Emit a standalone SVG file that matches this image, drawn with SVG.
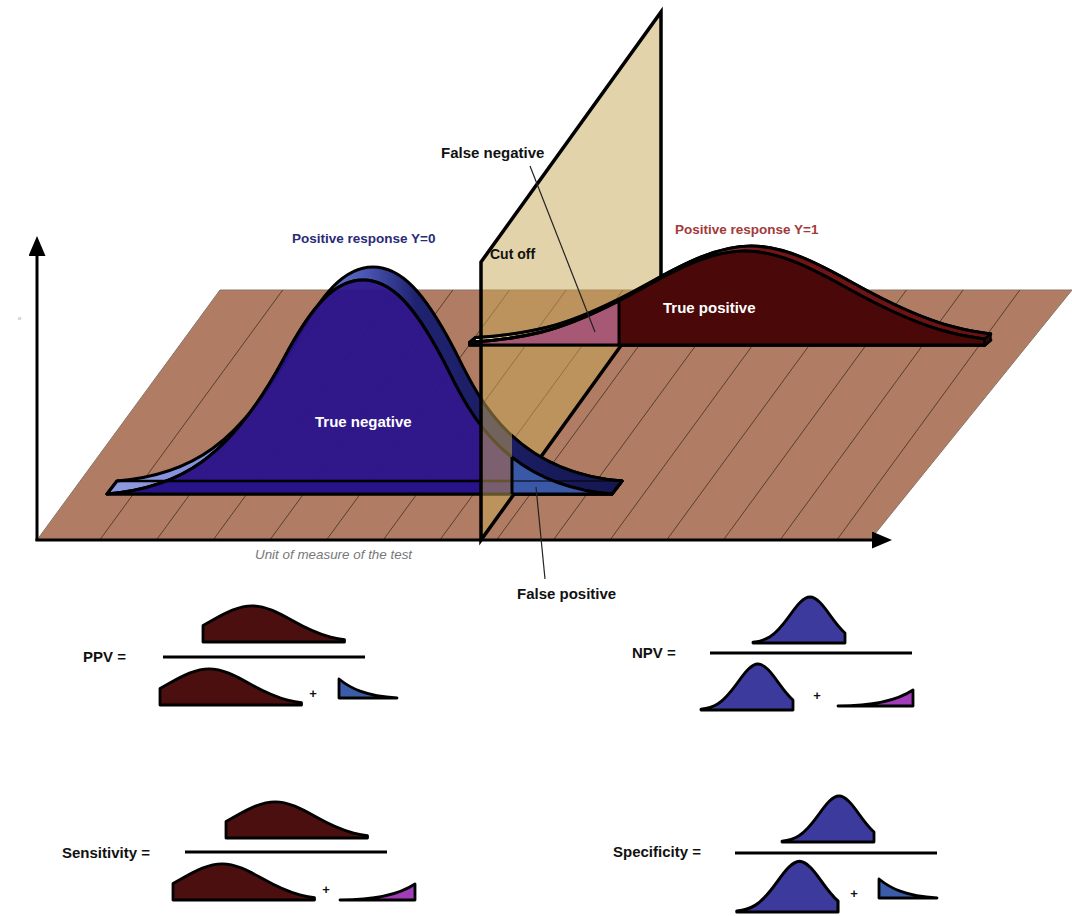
<svg xmlns="http://www.w3.org/2000/svg" xmlns:xlink="http://www.w3.org/1999/xlink" width="1072" height="916" viewBox="0 0 1072 916">
<style>
.lb{font-family:"Liberation Sans",Arial,Helvetica,sans-serif;font-weight:bold;font-size:15px;fill:#111}
.lbw{font-family:"Liberation Sans",Arial,Helvetica,sans-serif;font-weight:bold;font-size:15px;fill:#fff}
.resp{font-family:"Liberation Sans",Arial,Helvetica,sans-serif;font-weight:bold;font-size:13.5px}
.unit{font-family:"Liberation Sans",Arial,Helvetica,sans-serif;font-style:italic;font-size:13.4px;fill:#777}
.ol{stroke:#000;stroke-width:3;stroke-linejoin:round}
.tp{fill:#4b0f10;stroke:#000;stroke-width:2.8;stroke-linejoin:round}
.tn{fill:#3c3a9c;stroke:#000;stroke-width:2.8;stroke-linejoin:round}
.fp{fill:#3b5ca9;stroke:#000;stroke-width:2.8;stroke-linejoin:round}
.fn{fill:#a23cb8;stroke:#000;stroke-width:2.8;stroke-linejoin:round}
.bar{stroke:#000;stroke-width:3}
.lead{stroke:#222;stroke-width:1.2;fill:none}
</style>
<defs>
<marker id="arrow" viewBox="0 0 20 17" refX="0" refY="8.5" markerWidth="20" markerHeight="17" markerUnits="userSpaceOnUse" orient="auto">
<path d="M0,0 L20,8.5 L0,17 Z" fill="#000"/>
</marker>
<linearGradient id="gBlueRib" gradientUnits="userSpaceOnUse" x1="107" y1="0" x2="622" y2="0">
<stop offset="0" stop-color="#8e9ae0"/><stop offset="0.38" stop-color="#7683d2"/><stop offset="0.5" stop-color="#4b57b4"/><stop offset="0.6" stop-color="#1f2270"/><stop offset="1" stop-color="#14174f"/>
</linearGradient>
<linearGradient id="gRedRib" gradientUnits="userSpaceOnUse" x1="470" y1="0" x2="990" y2="0">
<stop offset="0" stop-color="#f0eef4"/><stop offset="0.3" stop-color="#e0d4d8"/><stop offset="0.48" stop-color="#a04040"/><stop offset="0.56" stop-color="#721616"/><stop offset="1" stop-color="#6a1212"/>
</linearGradient>
<clipPath id="clipFP"><rect x="512" y="0" width="560" height="916"/></clipPath>
<clipPath id="clipTP"><rect x="619" y="0" width="453" height="916"/></clipPath>
<clipPath id="clipFN"><rect x="0" y="0" width="619" height="916"/></clipPath>
<path id="bBase" d="M107,494 L612,494 L622,481 L117,481 Z"/>
<path id="bRib" d="M117,481 C190,475 240,445 293,347 C322,292 345,267 373,267 C401,267 424,292 453,347 C473,385 505,472 622,481 L612,494 C495,485 463,398 443,360 C414,305 391,280 363,280 C335,280 312,305 283,360 C230,458 180,488 107,494 Z"/>
<path id="bFront" d="M107,494 C180,488 230,458 283,360 C312,305 335,280 363,280 C391,280 414,305 443,360 C463,398 495,485 612,494 Z"/>
<path id="rBase" d="M469.6,345 L984.7,345 L990.7,340 L475.6,340 Z"/>
<path id="rRib" d="M475.6,337.5 C499.4,336 523.2,333.2 547,327.3 C581,318.8 615,302 649,283 C683,264 717,246 751,246 C785,246 819,264 853,283 C887,302 921,318.8 955,327.3 C966.9,330.3 978.8,332.4 990.7,334.1 L984.7,339.1 C972.8,337.4 960.9,335.3 949,332.3 C915,323.8 881,307 847,288 C813,269 779,251 745,251 C711,251 677,269 643,288 C609,307 575,323.8 541,332.3 C517.2,338.2 493.4,341 469.6,342.5 Z"/>
<path id="rFront" d="M469.6,342.5 C493.4,341 517.2,338.2 541,332.3 C575,323.8 609,307 643,288 C677,269 711,251 745,251 C779,251 813,269 847,288 C881,307 915,323.8 949,332.3 C960.9,335.3 972.8,337.4 984.7,339.1 L984.7,345 L469.6,345 Z"/>
<path id="fTP" d="M0,0 L0,-16.6 C3.3,-18.3 6.5,-20.1 9.8,-22 C22.9,-29.3 36,-36.2 49.1,-36.2 C62.2,-36.2 75.3,-29.3 88.4,-22 C101.5,-14.6 114.6,-8.2 127.7,-4.9 C132.3,-3.8 136.9,-2.9 141.5,-2.3 L141.5,0 Z"/>
<path id="fTN" d="M-92,0 L-92,-0.8 C-86.3,-1.4 -80.7,-2.7 -75,-6.2 C-68.3,-10.4 -61.7,-18.6 -55,-27.9 C-48.3,-37.2 -41.7,-46 -35,-46 C-28.3,-46 -21.7,-37.2 -15,-27.9 C-10,-20.9 -5,-14.3 0,-10 L0,0 Z"/>
<path id="fFP" d="M0,0 L0,-19 C11,-10 26,-2 58,0 Z"/>
<path id="fFN" d="M-75,0 C-43,0 -18,-4 0,-16 L0,0 Z"/>
</defs>

<rect x="0" y="0" width="1072" height="916" fill="#fff"/>

<g id="floor">
<polygon points="37,540 220,290 1072,290 870,540" fill="#b07d64" stroke="#8a7468" stroke-width="1"/>
<path d="M99.7,540L282.7,290 M156.4,540L339.4,290 M213.1,540L396.1,290 M269.8,540L452.8,290 M326.5,540L509.5,290 M383.2,540L566.2,290 M439.9,540L622.9,290 M496.6,540L679.6,290 M553.3,540L736.3,290 M610,540L793,290 M666.7,540L849.7,290 M723.4,540L906.4,290 M780.1,540L963.1,290 M836.8,540L1019.8,290" stroke="#3d2a20" stroke-width="0.9" stroke-opacity="0.85" fill="none"/>
</g>

<g id="axes">
<line x1="37" y1="541" x2="37" y2="256" stroke="#000" stroke-width="3" marker-end="url(#arrow)"/>
<line x1="35.5" y1="540" x2="872" y2="540" stroke="#000" stroke-width="3" marker-end="url(#arrow)"/>
<text x="21" y="320" transform="rotate(-90 21 320)" style="font-family:'Liberation Sans',Arial,sans-serif;font-size:6px;fill:#999">s</text>
<text class="unit" x="255" y="559">Unit of measure of the test</text>
</g>

<g id="curve-y1">
<use xlink:href="#rBase" fill="#3a0505" class="ol"/>
<use xlink:href="#rRib" fill="url(#gRedRib)" class="ol"/>
<use xlink:href="#rFront" fill="#4a0808" fill-opacity="0.93" class="ol"/>
<g clip-path="url(#clipFN)"><use xlink:href="#rFront" fill="#8a0a9a" fill-opacity="0.95" stroke="none"/></g>
</g>

<g id="curve-y0">
<use xlink:href="#bBase" fill="#1c1f6a" class="ol"/>
<use xlink:href="#bRib" fill="url(#gBlueRib)" class="ol"/>
<use xlink:href="#bFront" fill="#29138c" fill-opacity="0.95" class="ol"/>
<line x1="117" y1="481" x2="622" y2="481" stroke="#000" stroke-width="2.5"/>
</g>

<g id="cutoff-plane">
<polygon points="481,262 661,12 661,290 481,540" fill="rgb(199,167,85)" fill-opacity="0.5" stroke="#000" stroke-width="3.5" stroke-linejoin="miter"/>
</g>

<g id="front-parts">
<g clip-path="url(#clipFP)">
<use xlink:href="#bBase" fill="#1c1f6a" class="ol"/>
<use xlink:href="#bRib" fill="url(#gBlueRib)" class="ol"/>
<use xlink:href="#bFront" fill="#3a58a8" class="ol"/>
<line x1="117" y1="481" x2="622" y2="481" stroke="#000" stroke-width="2" stroke-opacity="0.5"/>
</g>
<line x1="512" y1="457" x2="512" y2="494" stroke="#000" stroke-width="3"/>
<g clip-path="url(#clipTP)">
<use xlink:href="#rBase" fill="#3a0505" class="ol"/>
<use xlink:href="#rRib" fill="url(#gRedRib)" class="ol"/>
<use xlink:href="#rFront" fill="#4a0808" class="ol"/>
</g>
<polygon points="984.7,339.1 990.7,334.1 990.7,340 984.7,345" fill="#3a0505" stroke="#000" stroke-width="2"/>
<g clip-path="url(#clipFN)">
<use xlink:href="#rRib" fill="none" class="ol"/>
<use xlink:href="#rFront" fill="none" class="ol"/>
</g>
<line x1="619" y1="301" x2="619" y2="345" stroke="#000" stroke-width="3"/>
</g>

<g id="labels">
<text class="resp" x="292" y="243" fill="#2a2a78">Positive response Y=0</text>
<text class="resp" x="675" y="234" fill="#a33a3a">Positive response Y=1</text>
<text class="lb" x="441" y="158">False negative</text>
<text class="lb" x="490" y="259" style="font-size:14px">Cut off</text>
<text class="lbw" x="663" y="313">True positive</text>
<text class="lbw" x="315" y="427">True negative</text>
<text class="lb" x="517" y="599">False positive</text>
</g>

<g id="connectors">
<line class="lead" x1="530" y1="166" x2="595" y2="332"/>
<line class="lead" x1="545" y1="579" x2="536" y2="487"/>
</g>

<g id="formula-ppv">
<text class="lb" x="83" y="662">PPV =</text>
<use xlink:href="#fTP" class="tp" transform="translate(203,642)"/>
<line class="bar" x1="163" y1="657" x2="365" y2="657"/>
<use xlink:href="#fTP" class="tp" transform="translate(160,705)"/>
<text class="lb" x="313" y="698" text-anchor="middle" style="font-size:13px">+</text>
<use xlink:href="#fFP" class="fp" transform="translate(339,698)"/>
</g>

<g id="formula-npv">
<text class="lb" x="632" y="658">NPV =</text>
<use xlink:href="#fTN" class="tn" transform="translate(845,643)"/>
<line class="bar" x1="710" y1="653" x2="912" y2="653"/>
<use xlink:href="#fTN" class="tn" transform="translate(793,710)"/>
<text class="lb" x="817" y="700" text-anchor="middle" style="font-size:13px">+</text>
<use xlink:href="#fFN" class="fn" transform="translate(913,706)"/>
</g>

<g id="formula-sensitivity">
<text class="lb" x="62" y="858">Sensitivity =</text>
<use xlink:href="#fTP" class="tp" transform="translate(226,838)"/>
<line class="bar" x1="185" y1="852" x2="387" y2="852"/>
<use xlink:href="#fTP" class="tp" transform="translate(173,900)"/>
<text class="lb" x="326" y="894" text-anchor="middle" style="font-size:13px">+</text>
<use xlink:href="#fFN" class="fn" transform="translate(415,900)"/>
</g>

<g id="formula-specificity">
<text class="lb" x="613" y="857">Specificity =</text>
<use xlink:href="#fTN" class="tn" transform="translate(874,842)"/>
<line class="bar" x1="735" y1="853" x2="937" y2="853"/>
<use xlink:href="#fTN" class="tn" transform="translate(838,912) scale(1.1)"/>
<text class="lb" x="854" y="898" text-anchor="middle" style="font-size:13px">+</text>
<use xlink:href="#fFP" class="fp" transform="translate(879,898)"/>
</g>
</svg>
